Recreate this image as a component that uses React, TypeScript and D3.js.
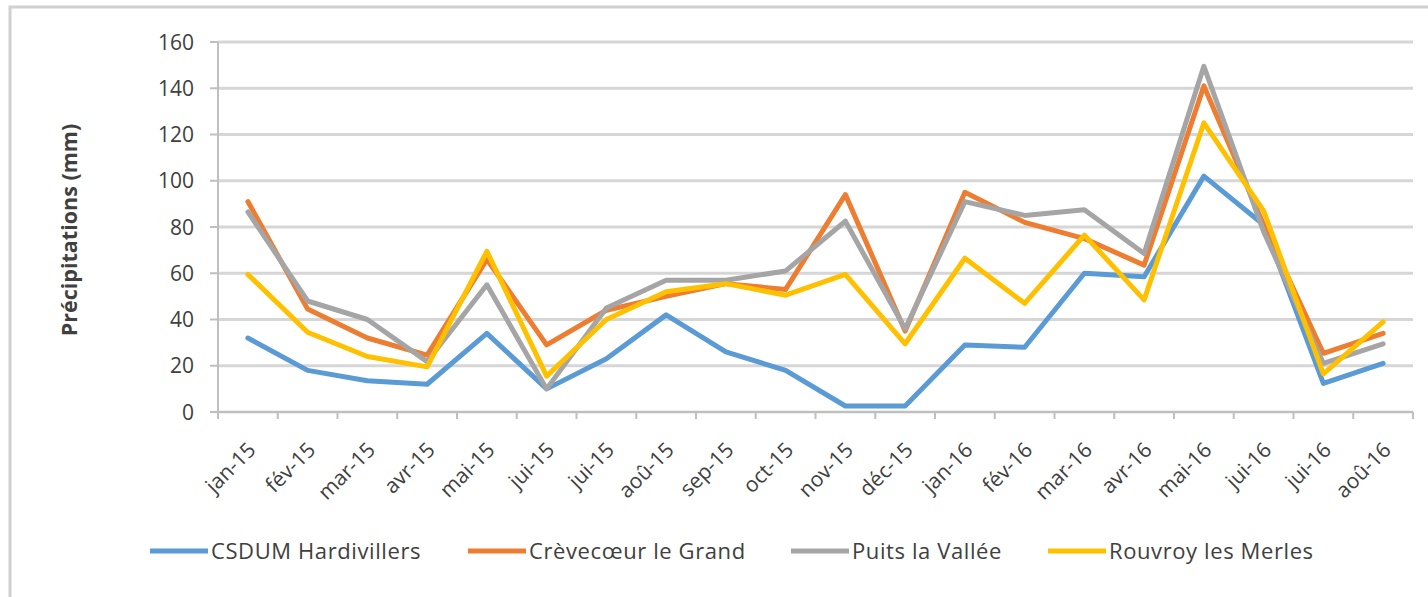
import React from "react";
import * as d3 from "d3";

const categories = ["jan-15","fév-15","mar-15","avr-15","mai-15","jui-15","jui-15","aoû-15","sep-15","oct-15","nov-15","déc-15","jan-16","fév-16","mar-16","avr-16","mai-16","jui-16","jui-16","aoû-16"];
const seriesNames = ["CSDUM Hardivillers","Crèvecœur le Grand","Puits la Vallée","Rouvroy les Merles"];
const csdum = [32, 18, 13.5, 12, 34, 10, 23, 42, 26, 18, 2.6, 2.6, 29, 28, 60, 58.5, 102, 81, 12.4, 21];
const crevecoeur = [91, 44.5, 32, 24.6, 66, 29, 44, 50, 55.5, 53, 94, 35, 95, 82, 75, 63.5, 141, 81, 25.4, 34];
const puits = [86.5, 48, 40, 21.8, 55, 10, 45, 57, 57, 61, 82.5, 36, 91, 85, 87.5, 68.5, 149.5, 78, 21, 29.5];
const rouvroy = [59.5, 34.5, 24, 19.5, 69.5, 15.5, 40, 52, 55.5, 50.5, 59.5, 29.5, 66.5, 47, 76.5, 48.5, 125, 87, 16.5, 39];
const yTicks = [0, 20, 40, 60, 80, 100, 120, 140, 160];
const colors = ["#5B9BD5", "#ED7D31", "#A5A5A5", "#FFC000"];

const W = 1428, H = 597;
const plot = { left: 218, right: 1413, top: 42, bottom: 412 };
const legendX = [152, 470, 793, 1050];
const FONT = "'Open Sans', sans-serif";

export default function App() {
  const allSeries = [csdum, crevecoeur, puits, rouvroy];
  const x = d3.scaleBand<string>().domain(categories.map((c, i) => i + "")).range([plot.left, plot.right]).padding(0);
  const y = d3.scaleLinear().domain([0, 160]).range([plot.bottom, plot.top]);
  const cx = (i: number) => (x(i + "") as number) + x.bandwidth() / 2;
  const line = d3.line<number>().x((_, i) => cx(i)).y((d) => y(d));
  const boundaries = d3.range(categories.length + 1).map((i) => plot.left + i * x.bandwidth());

  return (
    <svg width={W} height={H} style={{ position: "absolute", left: 0, top: 0, background: "#fff" }}>
      <rect x={10} y={7} width={W + 20} height={H + 20} fill="#fff" stroke="#d0d0d0" strokeWidth={3} />
      {yTicks.map((t) => (
        <g key={t}>
          {t > 0 && <line x1={plot.left} x2={plot.right} y1={y(t)} y2={y(t)} stroke="#d6d6d6" strokeWidth={3} />}
          <line x1={plot.left - 8} x2={plot.left} y1={y(t)} y2={y(t)} stroke="#bfbfbf" strokeWidth={2} />
          <text x={plot.left - 24} y={y(t)} dy="0.36em" textAnchor="end" fontFamily={FONT} fontSize={21} fill="#404040">{t}</text>
        </g>
      ))}
      <line x1={plot.left} x2={plot.left} y1={plot.top} y2={plot.bottom} stroke="#bfbfbf" strokeWidth={2} />
      <line x1={plot.left} x2={plot.right} y1={plot.bottom} y2={plot.bottom} stroke="#bfbfbf" strokeWidth={2.5} />
      {boundaries.map((b, i) => (
        <line key={i} x1={b} x2={b} y1={plot.bottom} y2={plot.bottom + 7} stroke="#bfbfbf" strokeWidth={2} />
      ))}
      {categories.map((c, i) => (
        <text key={i} transform={`translate(${cx(i) + 4},${plot.bottom + 34}) rotate(-45)`} textAnchor="end" dy="0.35em" fontFamily={FONT} fontSize={21} fill="#404040">{c}</text>
      ))}
      <text transform={`translate(69,${(plot.top + plot.bottom) / 2 + 3}) rotate(-90)`} textAnchor="middle" dy="0.35em" fontFamily={FONT} fontSize={21.5} fontWeight="bold" fill="#404040">Précipitations (mm)</text>
      {allSeries.map((s, k) => (
        <path key={k} d={line(s) as string} fill="none" stroke={colors[k]} strokeWidth={5} strokeLinejoin="round" strokeLinecap="round" />
      ))}
      {seriesNames.map((n, k) => (
        <g key={n}>
          <line x1={legendX[k] - 2} x2={legendX[k] + 56} y1={551} y2={551} stroke={colors[k]} strokeWidth={5} />
          <text x={legendX[k] + 59} y={551} dy="0.36em" fontFamily={FONT} fontSize={22} letterSpacing={0.6} fill="#404040">{n}</text>
        </g>
      ))}
    </svg>
  );
}
